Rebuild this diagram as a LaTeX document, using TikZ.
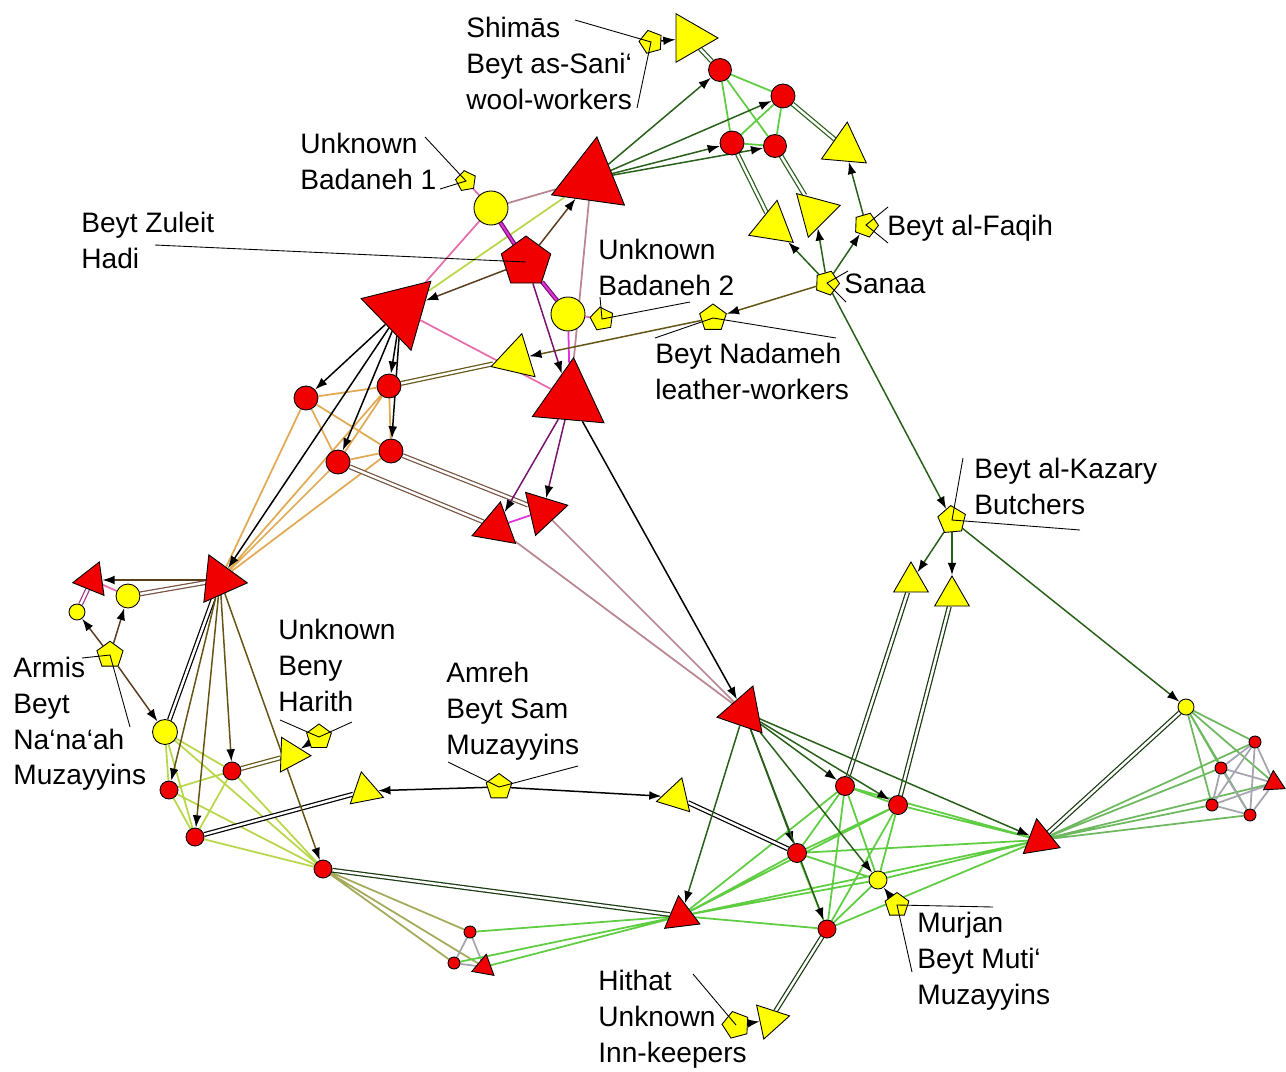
\documentclass[tikz,border=0pt]{standalone}
\usepackage{fontspec}
\setmainfont{Liberation Sans}
\usetikzlibrary{shapes.geometric, arrows.meta, backgrounds}

\definecolor{nodered}{RGB}{240,0,0}
\definecolor{nodeyel}{RGB}{255,255,0}
\definecolor{dkgreen}{RGB}{40,95,25}
\definecolor{ltgreen}{RGB}{95,205,65}
\definecolor{mdgreen}{RGB}{110,185,95}
\definecolor{orng}{RGB}{225,170,85}
\definecolor{ygreen}{RGB}{185,215,75}
\definecolor{olivel}{RGB}{165,170,90}
\definecolor{pinkl}{RGB}{230,110,170}
\definecolor{mauve}{RGB}{185,135,145}
\definecolor{purp}{RGB}{120,20,110}
\definecolor{magl}{RGB}{225,50,220}
\definecolor{grayl}{RGB}{165,165,175}
\definecolor{brwn}{RGB}{90,60,30}
\definecolor{olivdk}{RGB}{100,85,20}

\begin{document}
\begin{tikzpicture}[x=0.02cm, y=-0.02cm,
    rcirc/.style={circle, draw=black, fill=nodered, inner sep=0pt, line width=0.5pt, minimum size=#1},
    ycirc/.style={circle, draw=black, fill=nodeyel, inner sep=0pt, line width=0.5pt, minimum size=#1},
    rtri/.style 2 args={regular polygon, regular polygon sides=3, draw=black, fill=nodered, inner sep=0pt, line width=0.5pt, minimum size=#1, shape border rotate=#2},
    ytri/.style 2 args={regular polygon, regular polygon sides=3, draw=black, fill=nodeyel, inner sep=0pt, line width=0.5pt, minimum size=#1, shape border rotate=#2},
    rpent/.style 2 args={regular polygon, regular polygon sides=5, draw=black, fill=nodered, inner sep=0pt, line width=0.5pt, minimum size=#1, shape border rotate=#2},
    ypent/.style 2 args={regular polygon, regular polygon sides=5, draw=black, fill=nodeyel, inner sep=0pt, line width=0.5pt, minimum size=#1, shape border rotate=#2},
    lbl/.style={anchor=north west, align=left, inner sep=0pt, font=\fontsize{16}{20.3}\selectfont},
    arrow/.style={-{Latex[length=7pt,width=5pt,color=black]}, line width=0.85pt, draw=#1},
    arrow/.default=black,
    tie/.style={line width=1pt, draw=#1},
    dbl/.style={draw=#1, double=white, double distance=1.4pt, line width=0.7pt},
    lead/.style={draw=black, line width=0.5pt}]
  \useasboundingbox (0,0) rectangle (1286,1072);

  % top group
  \node[ypent={0.48cm}{15}] (pShimas) at (651,42) {};
  \node[ytri={1.12cm}{30}] (tTop) at (690,38) {};
  \node[rcirc=0.46cm] (rA) at (720,70) {};
  \node[rcirc=0.48cm] (rB) at (783,96) {};
  \node[rcirc=0.48cm] (rC) at (732,143) {};
  \node[rcirc=0.46cm] (rD) at (775,146) {};
  \node[ytri={1.04cm}{-5}] (tFaq) at (845,148) {};
  \node[ytri={1.04cm}{-9}] (tSanL) at (773,226) {};
  \node[ytri={1.04cm}{45}] (tSanR) at (815,212) {};
  \node[ypent={0.5cm}{-20}] (pFaqih) at (866,225) {};
  \node[ypent={0.5cm}{-20}] (pSanaa) at (827,283) {};
  \node[ypent={0.56cm}{0}] (pNadameh) at (713,318) {};

  % Badaneh / Zuleit group
  \node[rtri={1.7cm}{-8}] (rtTop) at (591,179) {};
  \node[ycirc=0.68cm] (ycBad1) at (491,208) {};
  \node[ypent={0.42cm}{10}] (pBad1) at (466,181) {};
  \node[rpent={1.04cm}{0}] (rpZuleit) at (526,262) {};
  \node[ycirc=0.68cm] (ycBad2) at (568,314) {};
  \node[ypent={0.48cm}{10}] (pBad2) at (602,319) {};
  \node[rtri={1.66cm}{74}] (rtLeft) at (401,310) {};
  \node[ytri={1.04cm}{-13}] (ytNad) at (516,359) {};
  \node[rtri={1.66cm}{-5}] (rtMid) at (570,399) {};
  \node[rcirc=0.48cm] (rE) at (306,398) {};
  \node[rcirc=0.48cm] (rF) at (389,386) {};
  \node[rcirc=0.48cm] (rG) at (338,462) {};
  \node[rcirc=0.48cm] (rH) at (391,451) {};
  \node[rtri={1.02cm}{-10}] (rtI) at (496,527) {};
  \node[rtri={1.02cm}{43}] (rtJ) at (543,511) {};

  % left group
  \node[rtri={1.1cm}{24}] (rtArmis) at (220,580) {};
  \node[rtri={0.78cm}{-22}] (rtK) at (92,580) {};
  \node[ycirc=0.48cm] (ycL) at (128,596) {};
  \node[ycirc=0.32cm] (ycM) at (77,612) {};
  \node[ypent={0.55cm}{0}] (pArmis) at (110,655) {};
  \node[ycirc=0.5cm] (ycN) at (165,732) {};
  \node[rcirc=0.36cm] (rO) at (169,790) {};
  \node[rcirc=0.36cm] (rP) at (232,771) {};
  \node[rcirc=0.36cm] (rQ) at (195,837) {};
  \node[rcirc=0.36cm] (rR) at (323,869) {};
  \node[ytri={0.8cm}{28}] (ytHar) at (291,755) {};
  \node[ypent={0.52cm}{0}] (pHarith) at (319,737) {};
  \node[ytri={0.78cm}{11}] (ytAmL) at (365,791) {};
  \node[ypent={0.54cm}{0}] (pAmreh) at (499,787) {};
  \node[rcirc=0.24cm] (s1) at (470,932) {};
  \node[rcirc=0.24cm] (s2) at (454,963) {};
  \node[rtri={0.52cm}{-10}] (st3) at (484,967) {};

  % lower right group
  \node[ytri={0.8cm}{-17}] (ytAmR) at (676,797) {};
  \node[rtri={1.1cm}{-19}] (rtHub) at (744,712) {};
  \node[rcirc=0.38cm] (rS) at (845,786) {};
  \node[rcirc=0.38cm] (rT) at (898,805) {};
  \node[rcirc=0.38cm] (rU) at (797,853) {};
  \node[ycirc=0.36cm] (ycV) at (878,880) {};
  \node[ypent={0.5cm}{0}] (pMurjan) at (897,905) {};
  \node[rcirc=0.36cm] (rW) at (827,929) {};
  \node[rtri={0.82cm}{7}] (rtX) at (681,916) {};
  \node[rtri={0.86cm}{9}] (rtY) at (1040,840) {};
  \node[ypent={0.58cm}{5}] (pKazary) at (952,520) {};
  \node[ytri={0.8cm}{0}] (ytKL) at (911,582) {};
  \node[ytri={0.8cm}{0}] (ytKR) at (952,596) {};
  \node[ytri={0.8cm}{42}] (ytHit) at (770,1020) {};
  \node[ypent={0.56cm}{15}] (pHithat) at (736,1025) {};
  \node[ycirc=0.32cm] (ycZ) at (1186,707) {};
  \node[rcirc=0.24cm] (r1) at (1255,742) {};
  \node[rcirc=0.24cm] (r2) at (1221,768) {};
  \node[rcirc=0.24cm] (r3) at (1212,805) {};
  \node[rcirc=0.24cm] (r4) at (1250,815) {};
  \node[rtri={0.5cm}{3}] (rt5) at (1274,783) {};

  \begin{scope}[on background layer]
    % plain ties
    \draw[tie=ltgreen] (rA) -- (rB) (rA) -- (rC) (rA) -- (rD) (rB) -- (rC) (rB) -- (rD) (rC) -- (rD);
    \draw[tie=pinkl] (ycBad1) -- (pBad1) (ycBad2) -- (pBad2) (ycBad1) -- (rtLeft) (rtLeft) -- (rtMid) (ycL) -- (rtK);
    \draw[tie=mauve] (ycBad1) -- (rtTop) (rtTop) -- (rtMid) (rtI) -- (rtHub) (rtJ) -- (rtHub);
    \draw[tie=magl] (ycBad2) -- (rtMid) (rtI) -- (rtJ);
    \draw[tie=ygreen] (rtLeft) -- (rtTop);
    \draw[tie=orng] (rE) -- (rF) (rE) -- (rG) (rE) -- (rH) (rE) -- (rtArmis) (rF) -- (rG) (rF) -- (rH) (rF) -- (rtArmis)
      (rG) -- (rH) (rG) -- (rtArmis) (rH) -- (rtArmis);
    \draw[tie=ygreen] (ycN) -- (rO) (ycN) -- (rP) (ycN) -- (rQ) (ycN) -- (rR) (rO) -- (rP) (rO) -- (rQ) (rO) -- (rR)
      (rP) -- (rQ) (rP) -- (rR) (rQ) -- (rR);
    \draw[tie=olivel] (rR) -- (s1) (rR) -- (s2) (rR) -- (st3);
    \draw[tie=grayl] (s1) -- (s2) (s1) -- (st3) (s2) -- (st3);
    \draw[tie=ltgreen] (rtX) -- (s1) (rtX) -- (s2) (rtX) -- (st3);
    \draw[tie=ltgreen] (rS) -- (rT) (rS) -- (rU) (rS) -- (ycV) (rS) -- (rW) (rS) -- (rtX) (rS) -- (rtY)
      (rT) -- (rU) (rT) -- (ycV) (rT) -- (rW) (rT) -- (rtX) (rT) -- (rtY)
      (rU) -- (ycV) (rU) -- (rW) (rU) -- (rtX) (rU) -- (rtY)
      (ycV) -- (rW) (ycV) -- (rtX) (ycV) -- (rtY)
      (rW) -- (rtX) (rW) -- (rtY) (rtX) -- (rtY);
    \draw[tie=mdgreen] (ycZ) -- (r1) (ycZ) -- (r2) (ycZ) -- (r3) (ycZ) -- (r4) (ycZ) -- (rt5)
      (rtY) -- (r1) (rtY) -- (r2) (rtY) -- (r3) (rtY) -- (r4) (rtY) -- (rt5);
    \draw[tie=grayl] (r1) -- (r2) (r1) -- (r3) (r1) -- (r4) (r1) -- (rt5) (r2) -- (r3) (r2) -- (r4) (r2) -- (rt5)
      (r3) -- (r4) (r3) -- (rt5) (r4) -- (rt5);

    % double ties
    \draw[dbl=dkgreen] (tTop) -- (rA) (rB) -- (tFaq) (rC) -- (tSanL) (rD) -- (tSanR);
    \draw[dbl=olivdk] (rF) -- (ytNad);
    \draw[dbl=brwn!70!mauve] (rG) -- (rtI) (rH) -- (rtJ) (rtArmis) -- (ycL);
    \draw[dbl=purp!60!pinkl] (ycM) -- (rtK);
    \draw[dbl=black] (rtArmis) -- (ycN) (rQ) -- (ytAmL) (ytAmR) -- (rU);
    \draw[dbl=olivdk] (rP) -- (ytHar);
    \draw[dbl=dkgreen!60!black] (rR) -- (rtX) (rS) -- (ytKL) (rT) -- (ytKR) (rW) -- (ytHit) (ycZ) -- (rtY);
    \draw[dbl=purp, double=magl, double distance=1.1pt] (rpZuleit) -- (ycBad1) (rpZuleit) -- (ycBad2);

    % arrows
    \draw[arrow] (pShimas) -- (tTop);
    \draw[arrow=dkgreen] (rtTop) -- (rA);
    \draw[arrow=dkgreen] (rtTop) -- (rB);
    \draw[arrow=dkgreen] (rtTop) -- (rC);
    \draw[arrow=dkgreen] (rtTop) -- (rD);
    \draw[arrow=dkgreen] (pSanaa) -- (tSanL);
    \draw[arrow=dkgreen] (pSanaa) -- (tSanR);
    \draw[arrow=dkgreen] (pSanaa) -- (pFaqih);
    \draw[arrow=dkgreen] (pFaqih) -- (tFaq);
    \draw[arrow=dkgreen] (pSanaa) -- (pKazary);
    \draw[arrow=olivdk] (pSanaa) -- (pNadameh);
    \draw[arrow=olivdk] (pNadameh) -- (ytNad);
    \draw[arrow=brwn] (rpZuleit) -- (rtTop);
    \draw[arrow=brwn] (rpZuleit) -- (rtLeft);
    \draw[arrow=purp] (rpZuleit) -- (rtMid);
    \draw[arrow=purp] (rtMid) -- (rtI);
    \draw[arrow=purp] (rtMid) -- (rtJ);
    \draw[arrow] (rtMid) -- (rtHub);
    \draw[arrow] (rtLeft) -- (rE);
    \draw[arrow] (rtLeft) -- (rF);
    \draw[arrow] (rtLeft) -- (rG);
    \draw[arrow] (rtLeft) -- (rH);
    \draw[arrow] (rtLeft) -- (rtArmis);
    \draw[arrow=brwn] (rtArmis) -- (rtK);
    \draw[arrow=brwn] (pArmis) -- (ycM);
    \draw[arrow=brwn] (pArmis) -- (ycL);
    \draw[arrow=brwn] (pArmis) -- (ycN);
    \draw[arrow=olivdk] (rtArmis) -- (rO);
    \draw[arrow=olivdk] (rtArmis) -- (rP);
    \draw[arrow=olivdk] (rtArmis) -- (rQ);
    \draw[arrow=olivdk] (rtArmis) -- (rR);
    \draw[arrow] (pHarith) -- (ytHar);
    \draw[arrow] (pAmreh) -- (ytAmL);
    \draw[arrow] (pAmreh) -- (ytAmR);
    \draw[arrow=dkgreen] (rtHub) -- (rS);
    \draw[arrow=dkgreen] (rtHub) -- (rT);
    \draw[arrow=dkgreen] (rtHub) -- (rU);
    \draw[arrow=dkgreen] (rtHub) -- (rW);
    \draw[arrow=dkgreen] (rtHub) -- (ycV);
    \draw[arrow=dkgreen] (rtHub) -- (rtX);
    \draw[arrow=dkgreen] (rtHub) -- (rtY);
    \draw[arrow=dkgreen] (pKazary) -- (ytKL);
    \draw[arrow=dkgreen] (pKazary) -- (ytKR);
    \draw[arrow=dkgreen] (pKazary) -- (ycZ);
    \draw[arrow] (pMurjan) -- (ycV);
    \draw[arrow] (pHithat) -- (ytHit);
  \end{scope}

  % labels
  \node[lbl] (lShimas) at (466,17) {Shimās\\Beyt as-Sani‘\\wool-workers};
  \node[lbl] (lBad1) at (300,133) {Unknown\\Badaneh 1};
  \node[lbl] (lZuleit) at (81,212) {Beyt Zuleit\\Hadi};
  \node[lbl] (lBad2) at (598,239) {Unknown\\Badaneh 2};
  \node[lbl] (lNadameh) at (655,343) {Beyt Nadameh\\leather-workers};
  \node[lbl] (lSanaa) at (844,274) {Sanaa};
  \node[lbl] (lFaqih) at (887,215) {Beyt al-Faqih};
  \node[lbl] (lKazary) at (974,458) {Beyt al-Kazary\\Butchers};
  \node[lbl] (lArmis) at (13,657) {Armis\\Beyt\\Na‘na‘ah\\Muzayyins};
  \node[lbl] (lHarith) at (278,619) {Unknown\\Beny\\Harith};
  \node[lbl] (lAmreh) at (446,662) {Amreh\\Beyt Sam\\Muzayyins};
  \node[lbl] (lMurjan) at (917,912) {Murjan\\Beyt Muti‘\\Muzayyins};
  \node[lbl] (lHithat) at (598,970) {Hithat\\Unknown\\Inn-keepers};

  % leader lines
  \coordinate (shimasA) at (575,20);
  \coordinate (shimasB) at (637,108);
  \coordinate (bad1A) at (425,137);
  \coordinate (bad1B) at (440,189);
  \coordinate (zuleitA) at (155,245);
  \coordinate (bad2A) at (600,297);
  \coordinate (bad2B) at (690,302);
  \coordinate (nadA) at (655,338);
  \coordinate (nadB) at (836,338);
  \coordinate (sanA) at (848,271);
  \coordinate (sanB) at (846,302);
  \coordinate (faqA) at (888,207);
  \coordinate (faqB) at (888,243);
  \coordinate (kazA) at (963,458);
  \coordinate (kazB) at (1080,530);
  \coordinate (armA) at (82,658);
  \coordinate (armB) at (130,727);
  \coordinate (harA) at (280,720);
  \coordinate (harB) at (352,722);
  \coordinate (amA) at (448,762);
  \coordinate (amB) at (578,766);
  \coordinate (murA) at (993,907);
  \coordinate (murB) at (912,972);
  \coordinate (hitA) at (693,974);
  \draw[lead] (shimasA) -- (pShimas.center) -- (shimasB);
  \draw[lead] (bad1A) -- (pBad1.center) -- (bad1B);
  \draw[lead] (zuleitA) -- (rpZuleit.center);
  \draw[lead] (bad2A) -- (pBad2.center) -- (bad2B);
  \draw[lead] (nadA) -- (pNadameh.center) -- (nadB);
  \draw[lead] (sanA) -- (pSanaa.center) -- (sanB);
  \draw[lead] (faqA) -- (pFaqih.center) -- (faqB);
  \draw[lead] (kazA) -- (pKazary.center) -- (kazB);
  \draw[lead] (armA) -- (pArmis.center) -- (armB);
  \draw[lead] (harA) -- (pHarith.center) -- (harB);
  \draw[lead] (amA) -- (pAmreh.center) -- (amB);
  \draw[lead] (murA) -- (pMurjan.center) -- (murB);
  \draw[lead] (hitA) -- (pHithat.center);
\end{tikzpicture}
\end{document}
